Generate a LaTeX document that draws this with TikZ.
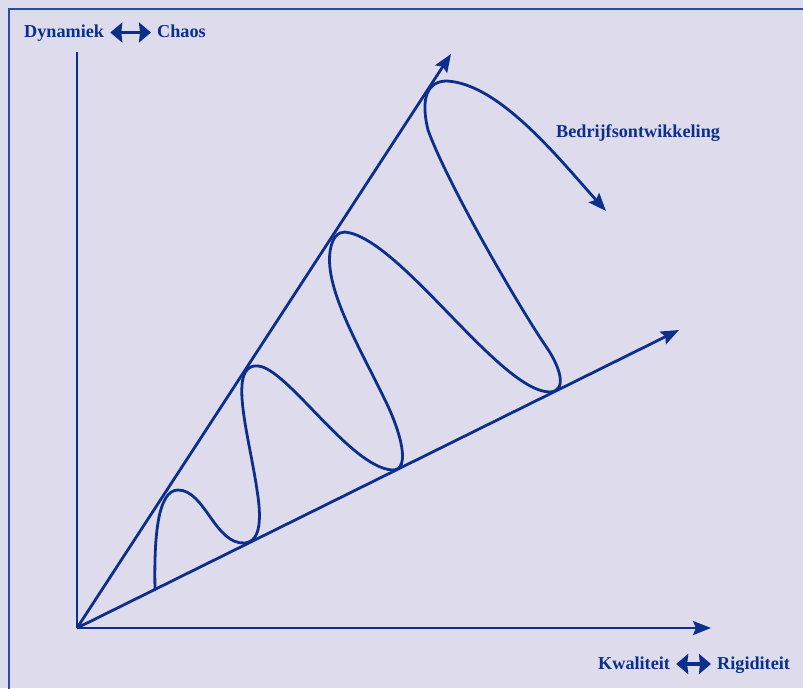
\documentclass[tikz,border=0pt]{standalone}
\usepackage{fontspec}
\setmainfont{Liberation Serif}
\usetikzlibrary{arrows.meta}
\definecolor{bg}{HTML}{DEDCEC}
\definecolor{frame}{HTML}{2B4BA5}
\definecolor{ink}{HTML}{0B2F8A}
\tikzset{
  axis/.style={draw=ink, line width=2.8pt},
  tip/.style={-{Stealth[length=18pt,width=14pt,inset=3pt]}},
  lbl/.style={text=ink, font=\bfseries\fontsize{18.2}{20}\selectfont, inner sep=0pt, anchor=base west},
  dbl/.style={draw=ink, line width=3.4pt, {Stealth[length=12pt,width=20pt,inset=1pt]}-{Stealth[length=12pt,width=20pt,inset=1pt]}},
}
\begin{document}
\begin{tikzpicture}[x=1pt,y=-1pt]
\useasboundingbox (0,0) rectangle (803,688);
\fill[bg] (0,0) rectangle (803,688);
\draw[frame, line width=2pt] (8.5,700) -- (8.5,8.5) -- (815,8.5);

% axes
\coordinate (O) at (77,628);
\coordinate (ytop) at (77,52);
\coordinate (xend) at (711,628);
\coordinate (upend) at (451,54);
\coordinate (lowend) at (679,330);
\draw[axis] (O) -- (ytop);
\draw[axis,tip] (O) -- (xend);
\draw[axis,tip] (O) -- (upend);
\draw[axis,tip] (O) -- (lowend);

% curve
\coordinate (c0) at (155,590);
\coordinate (cend) at (606,211);
\draw[axis,tip,line cap=round] (c0)
  .. controls (154,540) and (157,490) .. (178,490)
  .. controls (205,490) and (215,545) .. (245,543)
  .. controls (262,541) and (261,515) .. (257,490)
  .. controls (252,455) and (240,410) .. (242,385)
  .. controls (243,370) and (250,365) .. (258,366)
  .. controls (287,368) and (350,467) .. (392,470)
  .. controls (412,471) and (400,430) .. (385,400)
  .. controls (360,348) and (325,290) .. (330,252)
  .. controls (332,237) and (338,232) .. (345,232)
  .. controls (400,238) and (500,392) .. (550,392)
  .. controls (568,391) and (560,366) .. (545,345)
  .. controls (518,305) and (448,185) .. (428,130)
  .. controls (420,97) and (428,81) .. (447,81)
  .. controls (500,84) and (560,160) .. (cend);

% labels
\node[lbl] (dyn) at (24,37.5) {Dynamiek};
\node[lbl] (chaos) at (157,37.5) {Chaos};
\draw[dbl] ([xshift=6pt,yshift=5pt]dyn.base east) -- ([xshift=-6pt,yshift=5pt]chaos.base west);

\node[lbl] (kwal) at (598,669) {Kwaliteit};
\node[lbl] (rigi) at (717,669) {Rigiditeit};
\draw[dbl] ([xshift=6pt,yshift=5pt]kwal.base east) -- ([xshift=-6pt,yshift=5pt]rigi.base west);

\node[lbl] (bedr) at (556,137) {Bedrijfsontwikkeling};
\end{tikzpicture}
\end{document}
